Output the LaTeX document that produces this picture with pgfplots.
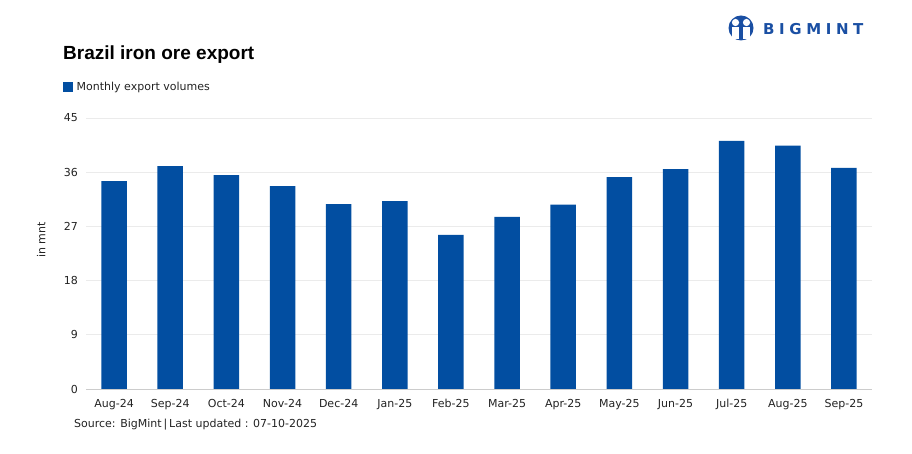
\documentclass[border=0pt]{standalone}
\usepackage{pgfplots}
\pgfplotsset{compat=1.18}
\usepackage{fontspec}
\setmainfont{DejaVu Sans}
\newfontfamily\titlefont{Liberation Sans}
\newfontfamily\logofont{DejaVu Sans}
\definecolor{barblue}{HTML}{024EA1}
\definecolor{logoblue}{HTML}{1A4FA3}
\definecolor{ticktext}{HTML}{222222}
\definecolor{gridc}{HTML}{EBEBEB}
\definecolor{axisc}{HTML}{CCCCCC}
\begin{document}
\begin{tikzpicture}[x=1pt,y=1pt]
\useasboundingbox (0,0) rectangle (912,454);
\begin{axis}[
  at={(86pt,65pt)}, anchor=south west,
  scale only axis, width=786pt, height=271pt,
  xmin=-0.5, xmax=13.5, ymin=0, ymax=45,
  ytick={0,9,18,27,36,45},
  xtick={0,...,13},
  xticklabels={Aug-24,Sep-24,Oct-24,Nov-24,Dec-24,Jan-25,Feb-25,Mar-25,Apr-25,May-25,Jun-25,Jul-25,Aug-25,Sep-25},
  /pgf/number format/assume math mode=true,
  ymajorgrids, grid style={gridc, line width=0.8pt},
  separate axis lines,
  axis x line*=bottom, axis y line*=left,
  x axis line style={axisc, line width=0.8pt, -},
  y axis line style={draw=none},
  major tick length=0pt,
  tick label style={font=\fontsize{11}{13}\selectfont, text=ticktext},
  xticklabel style={inner sep=0pt, yshift=-10pt},
  yticklabel style={inner sep=0pt, xshift=-8pt},
  ylabel={in mnt},
  ylabel style={font=\fontsize{11}{13}\selectfont, text=ticktext, at={(axis description cs:-0.057,0.55)}, anchor=center, rotate=0},
  legend style={at={(axis description cs:-0.0293,1.1155)}, anchor=west, draw=none, fill=none, inner sep=0pt, font=\fontsize{11}{13}\selectfont, text=ticktext, nodes={inner xsep=3.5pt, inner ysep=1.5pt}},
  legend image code/.code={\fill[barblue] (0pt,-5pt) rectangle (10pt,5pt);},
  legend cell align=left,
]
\addplot[ybar, bar width=25.5pt, fill=barblue, draw=none] coordinates {
(0,34.5) (1,37.0) (2,35.5) (3,33.7) (4,30.7) (5,31.2) (6,25.6)
(7,28.6) (8,30.6) (9,35.2) (10,36.5) (11,41.2) (12,40.4) (13,36.7)};
\addlegendentry{Monthly export volumes}
\end{axis}
\node[anchor=base west, inner sep=0pt, font=\titlefont\bfseries\fontsize{19}{22}\selectfont] at (63,394.7) {Brazil iron ore export};
\node[anchor=base west, inner sep=0pt, font=\fontsize{11}{13}\selectfont, text=ticktext] at (74,26) {Source: BigMint\,|\,Last updated : 07-10-2025};
% logo
\fill[logoblue] (741,426) circle (12.5);
\fill[white] (735.5,431.5) circle (3.6);
\fill[white] (746.5,431.5) circle (3.6);
\fill[white] (732,426.5) rectangle (739,415);
\fill[white] (743,426.5) rectangle (750,415);
\fill[logoblue] (740,421) rectangle (742,414);
\node[anchor=base west, inner sep=0pt, text=logoblue, font=\logofont\bfseries\fontsize{15}{17}\selectfont] at (763,419) {B\kern4.6pt I\kern4.6pt G\kern4.6pt M\kern4.6pt I\kern4.6pt N\kern4.6pt T};
\end{tikzpicture}
\end{document}
